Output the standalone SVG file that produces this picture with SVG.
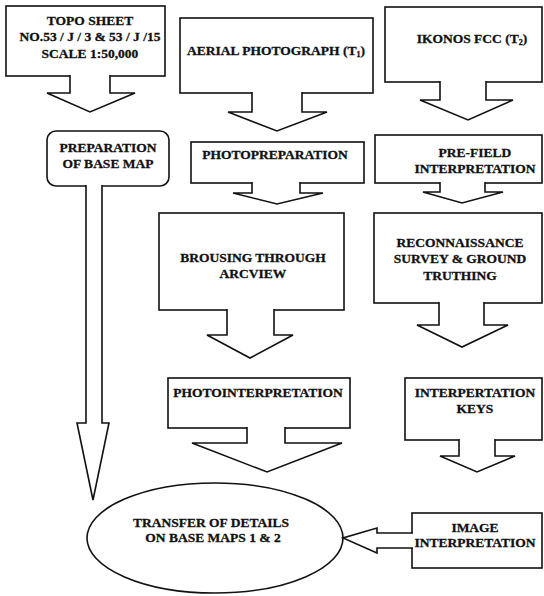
<svg xmlns="http://www.w3.org/2000/svg" width="544" height="596" viewBox="0 0 544 596">
<style>
.box{fill:#fff;stroke:#111;stroke-width:1.6}
.arr{fill:#fff;stroke:#111;stroke-width:1.6;stroke-linejoin:miter}
text{font-family:"Liberation Serif","Times New Roman",serif;font-weight:bold;font-size:13.5px;fill:#111;stroke:#111;stroke-width:0.3;text-anchor:middle}
.sub{font-size:8px}
</style>
<rect width="544" height="596" fill="#fff"/>
<g id="topo">
<rect class="box" x="6" y="6" width="159" height="70"/>
<text x="90" y="25">TOPO SHEET</text>
<text x="90" y="41">NO.53 / J / 3 &amp; 53 / J /15</text>
<text x="90" y="58">SCALE 1:50,000</text>
</g>
<g id="basemap">
<rect class="box" x="47" y="131" width="122" height="55" rx="9"/>
<text x="108" y="152">PREPARATION</text>
<text x="108" y="168">OF BASE MAP</text>
</g>
<g id="aerial">
<rect class="box" x="180" y="18" width="193" height="75"/>
<text x="276" y="55">AERIAL PHOTOGRAPH (T<tspan class="sub" dy="2">1</tspan><tspan dy="-2">)</tspan></text>
</g>
<g id="photoprep">
<rect class="box" x="191" y="142" width="173" height="41"/>
<text x="275" y="159">PHOTOPREPARATION</text>
</g>
<g id="brousing">
<rect class="box" x="159" y="213" width="185" height="97"/>
<text x="253" y="262">BROUSING THROUGH</text>
<text x="253" y="278">ARCVIEW</text>
</g>
<g id="photointerp">
<rect class="box" x="168" y="378" width="182" height="50"/>
<text x="258" y="397">PHOTOINTERPRETATION</text>
</g>
<g id="ikonos">
<rect class="box" x="385" y="7" width="157" height="75"/>
<text x="472" y="43">IKONOS FCC (T<tspan class="sub" dy="2">2</tspan><tspan dy="-2">)</tspan></text>
</g>
<g id="prefield">
<rect class="box" x="375" y="135" width="167" height="48"/>
<text x="475" y="157">PRE-FIELD</text>
<text x="475" y="173">INTERPRETATION</text>
</g>
<g id="recon">
<rect class="box" x="374" y="213" width="168" height="90"/>
<text x="460" y="247">RECONNAISSANCE</text>
<text x="460" y="263">SURVEY &amp; GROUND</text>
<text x="460" y="280">TRUTHING</text>
</g>
<g id="keys">
<rect class="box" x="405" y="378" width="137" height="62"/>
<text x="475" y="397">INTERPERTATION</text>
<text x="475" y="413">KEYS</text>
</g>
<g id="image">
<rect class="box" x="412" y="513" width="130" height="55"/>
<text x="475" y="532">IMAGE</text>
<text x="475" y="547">INTERPRETATION</text>
</g>
<g id="transfer">
<ellipse class="box" cx="215" cy="538" rx="128" ry="55"/>
<text x="211" y="527">TRANSFER OF DETAILS</text>
<text x="213" y="542">ON BASE MAPS 1 &amp; 2</text>
</g>
<g id="connectors">
<path class="arr" d="M70,75 V93 H47 L90,112 L135,93 H110 V75"/>
<path class="arr" d="M86,185 V423 H77 L93,500 L109,423 H102 V185"/>
<path class="arr" d="M252,92 V112 H228 L277,131 L327,112 H302 V92"/>
<path class="arr" d="M252,182 V193 H233 L277,204 L323,193 H300 V182"/>
<path class="arr" d="M227,309 V335 H207 L250,358 L293,335 H274 V309"/>
<path class="arr" d="M247,427 V443 H192 L267,472 L342,443 H285 V427"/>
<path class="arr" d="M440,81 V100 H420 L468,120 L513,100 H486 V81"/>
<path class="arr" d="M440,182 V192 H423 L462,203 L503,192 H485 V182"/>
<path class="arr" d="M439,302 V325 H417 L462,347 L508,325 H484 V302"/>
<path class="arr" d="M459,439 V456 H440 L477,472 L515,456 H495 V439"/>
<path class="arr" d="M413,533 H377 V528 L343,538 L377,553 V548 H413"/>
</g>
</svg>
